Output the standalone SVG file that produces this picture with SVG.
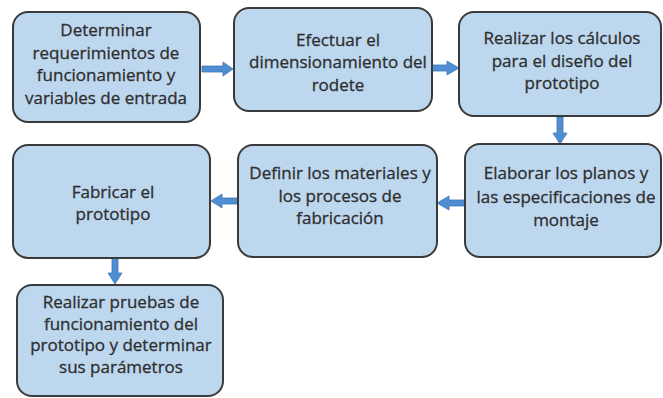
<svg xmlns="http://www.w3.org/2000/svg" width="663" height="398" viewBox="0 0 663 398">
<style>
.box{fill:#BDD7EE;stroke:#3A3A3A;stroke-width:2}
.t{font-family:"Open Sans","Noto Sans",sans-serif;font-size:17px;fill:#2E2E2E;stroke:#2E2E2E;stroke-width:0.3;text-anchor:middle}
.ar{fill:#4F8ED2;stroke:#3F76B8;stroke-width:0.8}
</style>
<rect width="663" height="398" fill="#fff"/>
<g id="connectors">
<polygon class="ar" points="202,66 223,66 223,62 233,69 223,76 223,72 202,72"/>
<polygon class="ar" points="432,65 447,65 447,61 459,68 447,75 447,71 432,71"/>
<polygon class="ar" points="557,117 563,117 563,133 567,133 560,144 553,133 557,133"/>
<polygon class="ar" points="465,200 449,200 449,196 437,203 449,210 449,206 465,206"/>
<polygon class="ar" points="238,198 222,198 222,194 211,201 222,208 222,204 238,204"/>
<polygon class="ar" points="112,258 118,258 118,273 122,273 115,284 108,273 112,273"/>
</g>
<g id="n1">
<rect class="box" x="13" y="12" width="187" height="110" rx="15"/>
<text class="t" x="106" y="36">Determinar</text>
<text class="t" x="106" y="58.5">requerimientos de</text>
<text class="t" x="106" y="81">funcionamiento y</text>
<text class="t" x="106" y="103.5">variables de entrada</text>
</g>
<g id="n2">
<rect class="box" x="234" y="8" width="198" height="103" rx="15"/>
<text class="t" x="338" y="46">Efectuar el</text>
<text class="t" x="338" y="68">dimensionamiento del</text>
<text class="t" x="338" y="91">rodete</text>
</g>
<g id="n3">
<rect class="box" x="459" y="12" width="202" height="104" rx="15"/>
<text class="t" x="562" y="44">Realizar los cálculos</text>
<text class="t" x="562" y="67">para el diseño del</text>
<text class="t" x="562" y="89">prototipo</text>
</g>
<g id="n4">
<rect class="box" x="465" y="144" width="196" height="113" rx="15"/>
<text class="t" x="566" y="179">Elaborar los planos y</text>
<text class="t" x="566" y="203">las especificaciones de</text>
<text class="t" x="566" y="226">montaje</text>
</g>
<g id="n5">
<rect class="box" x="238" y="145" width="199" height="112" rx="15"/>
<text class="t" x="340" y="179">Definir los materiales y</text>
<text class="t" x="340" y="202">los procesos de</text>
<text class="t" x="340" y="224">fabricación</text>
</g>
<g id="n6">
<rect class="box" x="13" y="145" width="197" height="113" rx="15"/>
<text class="t" x="113" y="197.5">Fabricar el</text>
<text class="t" x="113" y="220">prototipo</text>
</g>
<g id="n7">
<rect class="box" x="17" y="285" width="206" height="111" rx="15"/>
<text class="t" x="121" y="308">Realizar pruebas de</text>
<text class="t" x="121" y="329.5">funcionamiento del</text>
<text class="t" x="121" y="351">prototipo y determinar</text>
<text class="t" x="121" y="373">sus parámetros</text>
</g>
</svg>
